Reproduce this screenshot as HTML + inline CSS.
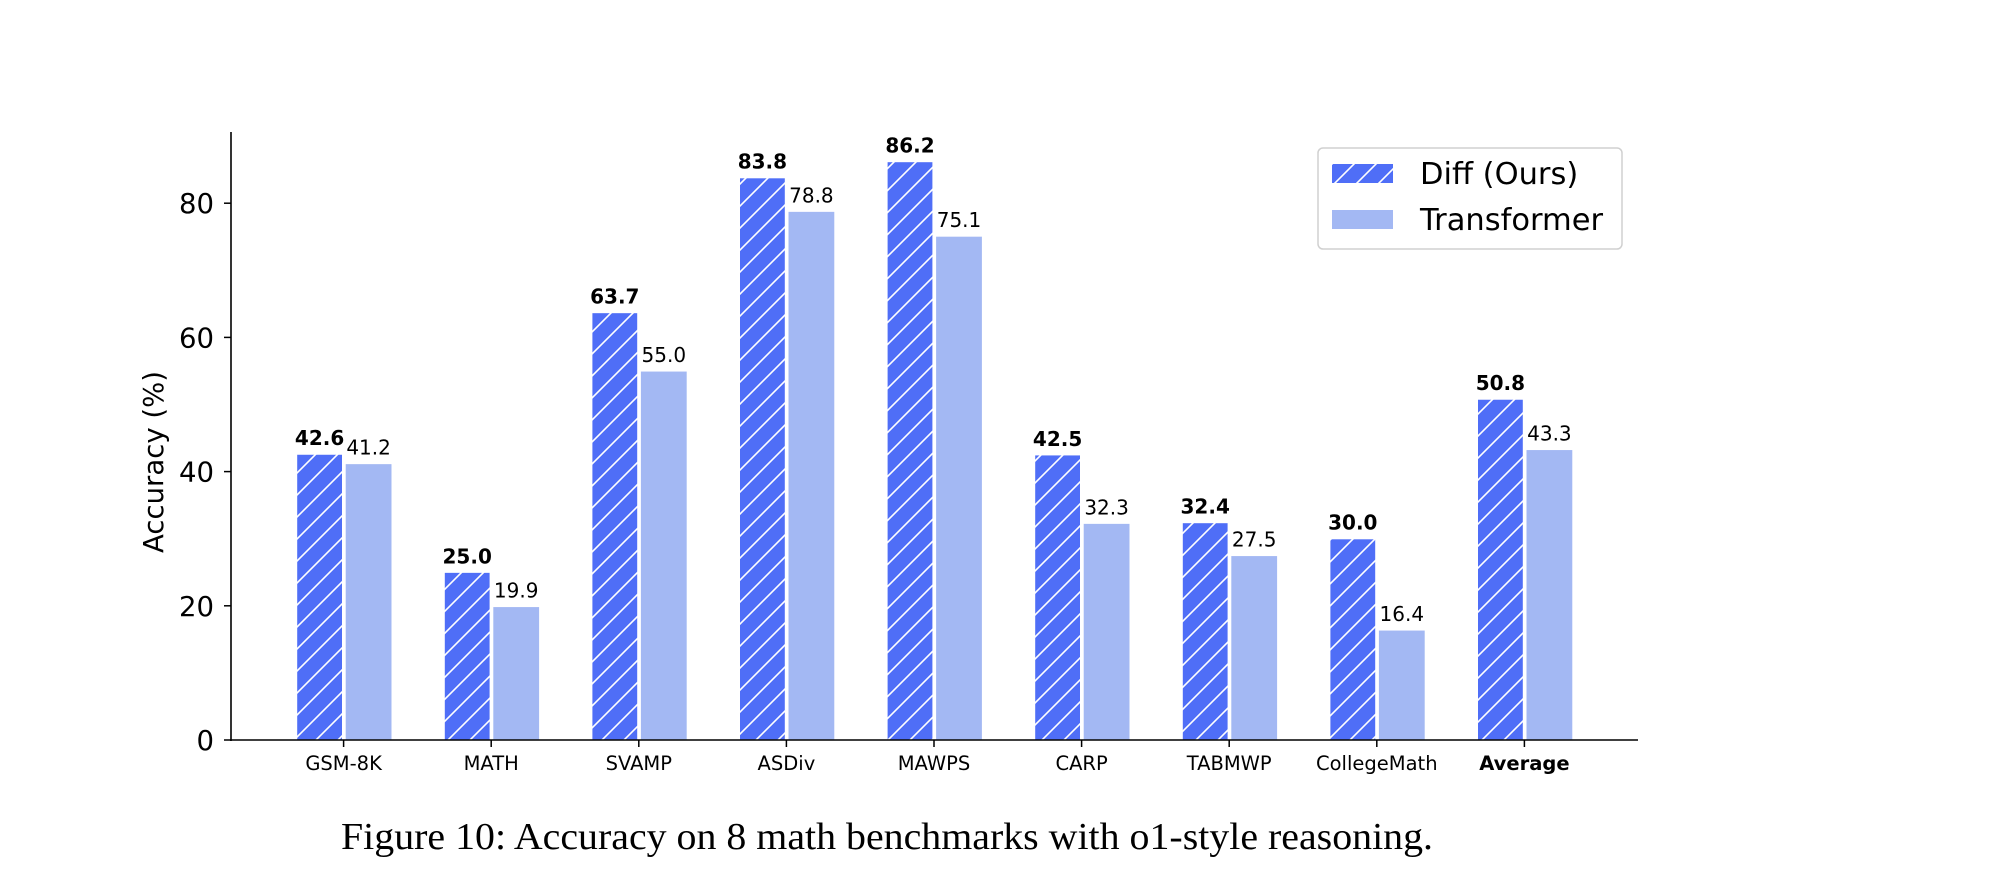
<!DOCTYPE html>
<html><head><meta charset="utf-8"><style>
html,body{margin:0;padding:0;background:#fff;}
svg{display:block;}
text{font-family:"DejaVu Sans","Liberation Sans",sans-serif;fill:#000;}
</style></head><body>
<svg id="chart" width="1990" height="892" viewBox="0 0 1990 892" xmlns="http://www.w3.org/2000/svg">
<defs>
<pattern id="hatch" patternUnits="userSpaceOnUse" width="22" height="22">
<rect width="22" height="22" fill="#4f6ef7"/>
<path d="M-2,24 L24,-2 M-2,2 L2,-2 M20,24 L24,20" stroke="#fff" stroke-width="1.6"/>
</pattern>
</defs>
<g id="plot"></g>
<text x="341" y="849" textLength="1092" lengthAdjust="spacingAndGlyphs" style="font-family:'Liberation Serif',serif;font-size:38px;">Figure 10: Accuracy on 8 math benchmarks with o1-style reasoning.</text>
</svg>
<script>
const categories = ["GSM-8K","MATH","SVAMP","ASDiv","MAWPS","CARP","TABMWP","CollegeMath","Average"];
const diffValues = [42.6,25.0,63.7,83.8,86.2,42.5,32.4,30.0,50.8];
const transformerValues = [41.2,19.9,55.0,78.8,75.1,32.3,27.5,16.4,43.3];
const yTicks = [0,20,40,60,80];

const NS = "http://www.w3.org/2000/svg";
const g = document.getElementById('plot');
const x0 = 231, x1 = 1638, yBase = 740, pxPerUnit = 6.71;
const firstCenter = 343.6, step = 147.6;
function xScale(i){ return firstCenter + i*step; }
function yScale(v){ return yBase - v*pxPerUnit; }
function mk(tag, attrs, txt){
  const e = document.createElementNS(NS, tag);
  for (const k in attrs) e.setAttribute(k, attrs[k]);
  if (txt !== undefined) e.textContent = txt;
  g.appendChild(e);
  return e;
}
categories.forEach((c,i)=>{
  const cx = xScale(i);
  const yd = yScale(diffValues[i]);
  const b1 = mk('rect',{x:cx-47, y:yd, width:46, height:yBase-yd, fill:'url(#hatch)', stroke:'#fff','stroke-width':1.2});
  
  
  const yt = yScale(transformerValues[i]);
  const b2 = mk('rect',{x:cx+1.5, y:yt, width:47, height:yBase-yt, fill:'#a3b8f3', stroke:'#fff','stroke-width':1.2});
  
  
  const l1 = mk('text',{x:cx-24, y:yd-9, 'text-anchor':'middle','font-size':20,'font-weight':'bold'}, diffValues[i].toFixed(1));
  
  
  const l2 = mk('text',{x:cx+25, y:yt-9, 'text-anchor':'middle','font-size':20}, transformerValues[i].toFixed(1));
  
  
  const tk = mk('line',{x1:cx, x2:cx, y1:yBase, y2:yBase+7, stroke:'#000','stroke-width':1.5});
  
  
  const tl = mk('text',{x:cx, y:770, 'text-anchor':'middle','font-size':19.5,'font-weight': c==='Average'?'bold':'normal'}, c);
  
  
});
const ya = mk('line',{x1:x0, x2:x0, y1:132, y2:yBase+1, stroke:'#000','stroke-width':1.6});


const xa = mk('line',{x1:x0-1, x2:x1, y1:yBase, y2:yBase, stroke:'#000','stroke-width':1.6});


yTicks.forEach(v=>{
  const y = yScale(v);
  const t = mk('line',{x1:x0-7, x2:x0, y1:y, y2:y, stroke:'#000','stroke-width':1.5});
  
  
  const tl = mk('text',{x:214, y:y+10, 'text-anchor':'end','font-size':27.5}, String(v));
  
  
});
const yl = mk('text',{x:0, y:0, 'text-anchor':'middle','font-size':27.5, transform:'translate(163,462) rotate(-90)'}, 'Accuracy (%)');


const lb = mk('rect',{x:1318, y:148, width:304, height:101, rx:5, fill:'#fff', stroke:'#d0d0d0','stroke-width':1.5});


const p1 = mk('rect',{x:1332, y:164, width:61, height:19, fill:'url(#hatch)'});


const t1 = mk('text',{x:1420, y:184, 'font-size':30.5}, 'Diff (Ours)');


const p2 = mk('rect',{x:1332, y:210, width:61, height:19, fill:'#a3b8f3'});


const t2 = mk('text',{x:1420, y:230, 'font-size':30.5}, 'Transformer');


</script>
</body></html>
